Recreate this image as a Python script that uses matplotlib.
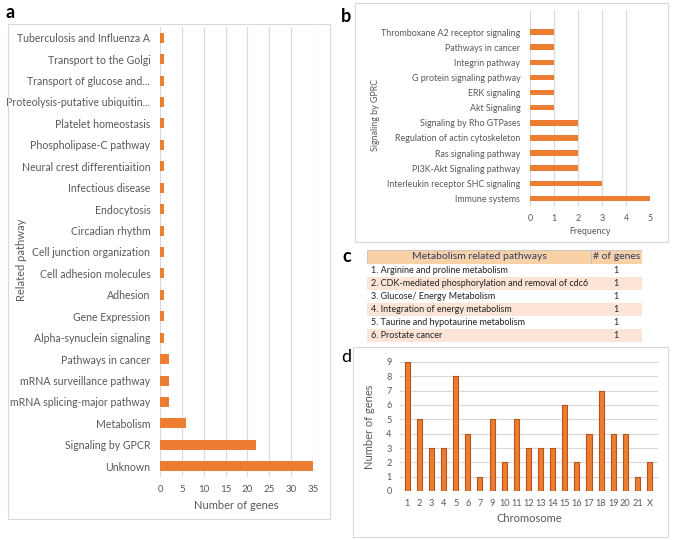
import matplotlib
matplotlib.use("Agg")
import matplotlib.pyplot as plt
from matplotlib.patches import Rectangle

plt.rcParams['font.family'] = ['Lato', 'DejaVu Sans']

ORANGE = '#ED7D31'
TXT = '#595959'
GRID = '#D9D9D9'

# panel a data (top to bottom)
path_a = ['Tuberculosis and Influenza A', 'Transport to the Golgi', 'Transport of glucose and...',
          'Proteolysis-putative ubiquitin...', 'Platelet homeostasis', 'Phospholipase-C pathway',
          'Neural crest differentiaition', 'Infectious disease', 'Endocytosis', 'Circadian rhythm',
          'Cell junction organization', 'Cell adhesion molecules', 'Adhesion', 'Gene Expression',
          'Alpha-synuclein signaling', 'Pathways in cancer', 'mRNA surveillance pathway',
          'mRNA splicing-major pathway', 'Metabolism', 'Signaling by GPCR', 'Unknown']
genes_a = [1, 1, 1, 1, 1, 1, 1, 1, 1, 1, 1, 1, 1, 1, 1, 2, 2, 2, 6, 22, 35]

# panel b data (top to bottom)
path_b = ['Thromboxane A2 receptor signaling', 'Pathways in cancer', 'Integrin pathway',
          'G protein signaling pathway', 'ERK signaling', 'Akt Signaling',
          'Signaling by Rho GTPases', 'Regulation of actin cytoskeleton', 'Ras signaling pathway',
          'PI3K-Akt Signaling pathway', 'Interleukin receptor SHC signaling', 'Immune systems']
freq_b = [1, 1, 1, 1, 1, 1, 2, 2, 2, 2, 3, 5]

# panel c table
metab_paths = ['1. Arginine and proline metabolism',
               '2. CDK-mediated phosphorylation and removal of cdc6',
               '3. Glucose/ Energy Metabolism',
               '4. Integration of energy metabolism',
               '5. Taurine and hypotaurine metabolism',
               '6. Prostate cancer']
metab_genes = [1, 1, 1, 1, 1, 1]

# panel d data
chrom = ['1', '2', '3', '4', '5', '6', '7', '9', '10', '11', '12', '13', '14', '15', '16',
         '17', '18', '19', '20', '21', 'X']
chrom_genes = [9, 5, 3, 3, 8, 4, 1, 5, 2, 5, 3, 3, 3, 6, 2, 4, 7, 4, 4, 1, 2]

W, H = 675, 540
fig = plt.figure(figsize=(W / 100, H / 100), dpi=100)


def px(l, t, r, b):
    return [l / W, 1 - b / H, (r - l) / W, (b - t) / H]


def box(l, t, r, b):
    fig.patches.append(Rectangle((l / W, 1 - b / H), (r - l) / W, (b - t) / H,
                                 transform=fig.transFigure, fill=False, ec=GRID, lw=0.8))


def style(ax):
    for s in ax.spines.values():
        s.set_visible(False)
    ax.tick_params(length=0, colors=TXT)


# ---- panel a
box(8, 24, 330, 519)
ax = fig.add_axes(px(160, 27, 313, 477))
ya = list(range(len(path_a)))[::-1]
ax.barh(ya, genes_a, height=0.47, color=ORANGE, zorder=3)
ax.set_yticks(ya)
ax.set_yticklabels(path_a, fontsize=7.6)
ax.tick_params(axis='y', pad=7)
ax.set_xlim(0, 35)
ax.set_xticks(range(0, 36, 5))
ax.tick_params(axis='x', labelsize=7, pad=6)
ax.set_ylim(-0.5, len(path_a) - 0.5)
ax.grid(axis='x', color=GRID, lw=0.8, zorder=0)
style(ax)
ax.set_xlabel('Number of genes', fontsize=8, color=TXT, labelpad=4)
fig.text(22 / W, 1 - 260 / H, 'Related pathway', rotation=90, fontsize=8, color=TXT,
         ha='center', va='center')
fig.text(6 / W, 1 - 12 / H, 'a', fontsize=13, fontweight='bold', va='center')

# ---- panel b
box(355, 3, 668, 242)
ax = fig.add_axes(px(530, 10, 650, 206))
yb = list(range(len(path_b)))[::-1]
ax.barh(yb, freq_b, height=0.36, color=ORANGE, zorder=3)
ax.set_yticks(yb)
ax.set_yticklabels(path_b, fontsize=6.4)
ax.tick_params(axis='y', pad=7)
ax.set_xlim(0, 5)
ax.set_xticks(range(0, 6))
ax.set_ylim(-0.5, len(path_b) + 0.46)
ax.tick_params(axis='x', labelsize=6.4, pad=6)
ax.grid(axis='x', color=GRID, lw=0.8, zorder=0)
style(ax)
ax.set_xlabel('Frequency', fontsize=6.4, color=TXT, labelpad=3)
fig.text(375 / W, 1 - 115 / H, 'Signaling by GPRC', rotation=90, fontsize=6.4, color=TXT,
         ha='center', va='center')
fig.text(341 / W, 1 - 17 / H, 'b', fontsize=13, fontweight='bold', va='center')

# ---- panel c table
ax = fig.add_axes(px(367, 250, 642, 342))
ax.set_xlim(0, 275)
ax.set_ylim(92, 0)
ax.axis('off')
col_split = 224
hdr_h = 14
row_h = (92 - hdr_h) / len(metab_paths)
for x0, x1, lab in [(0, col_split, 'Metabolism related pathways'), (col_split, 275, '# of genes')]:
    ax.add_patch(Rectangle((x0, 0), x1 - x0, hdr_h, fc='#F9D1A6', ec='#BFBFBF', lw=0.6))
    ax.text((x0 + x1) / 2, hdr_h / 2, lab, ha='center', va='center', fontsize=7.5, color='#2F3B66')
for i, (p, g) in enumerate(zip(metab_paths, metab_genes)):
    y0 = hdr_h + i * row_h
    ax.add_patch(Rectangle((0, y0), 275, row_h, fc='#FCE4D6' if i % 2 else 'white', ec='none'))
    ax.text(4, y0 + row_h / 2, p, ha='left', va='center', fontsize=6.5, color='#222222')
    ax.text(249, y0 + row_h / 2, str(g), ha='center', va='center', fontsize=6.5, color='#222222')
fig.text(342 / W, 1 - 257 / H, 'c', fontsize=13, fontweight='bold', va='center')

# ---- panel d
box(353, 347, 668, 537)
ax = fig.add_axes(px(400, 362, 658, 491))
xd = range(len(chrom))
ax.bar(xd, chrom_genes, width=0.42, color=ORANGE, edgecolor='#B5551B', lw=0.8, zorder=3)
ax.set_xticks(list(xd))
ax.set_xticklabels(chrom, fontsize=6.6)
ax.set_ylim(0, 9)
ax.set_yticks(range(0, 10))
ax.tick_params(axis='y', labelsize=6.6, pad=6)
ax.tick_params(axis='x', pad=6)
ax.set_xlim(-0.6, len(chrom) - 0.3)
ax.grid(axis='y', color=GRID, lw=0.8, zorder=0)
style(ax)
ax.set_xlabel('Chromosome', fontsize=8, color=TXT, labelpad=3)
ax.set_ylabel('Number of genes', fontsize=8, color=TXT, labelpad=8)
fig.text(341 / W, 1 - 357 / H, 'd', fontsize=13, va='center')

fig.savefig('out.png', dpi=100)
